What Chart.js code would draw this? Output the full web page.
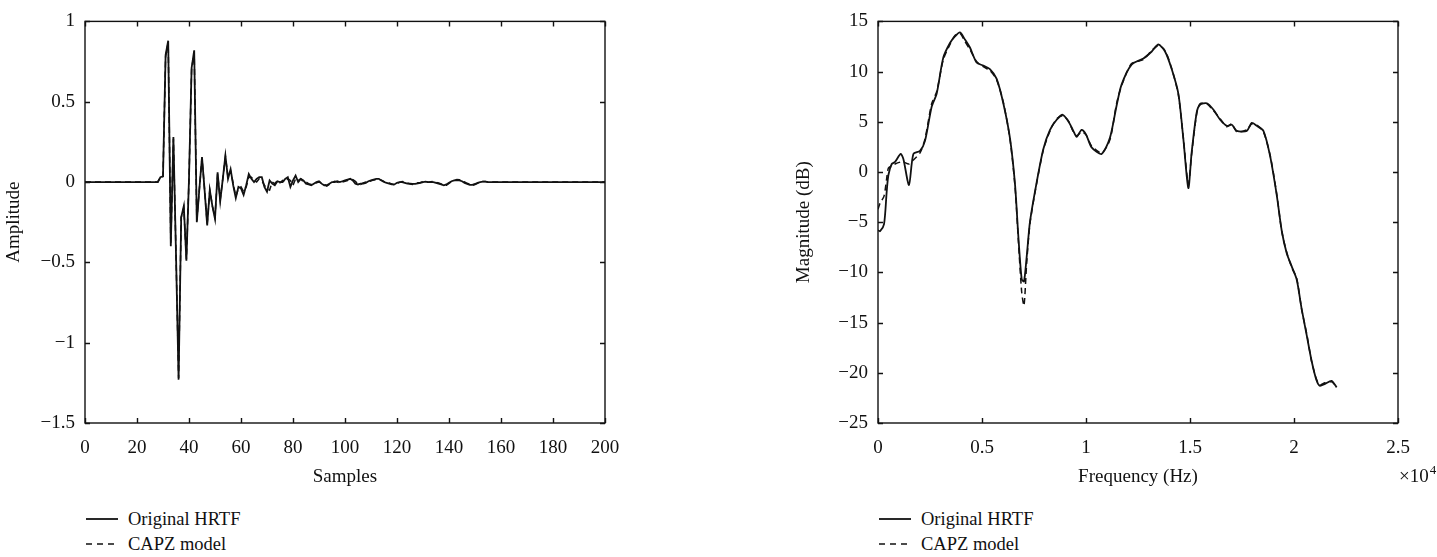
<!DOCTYPE html>
<html>
<head>
<meta charset="utf-8">
<script src="https://cdn.jsdelivr.net/npm/chart.js@4.4.1/dist/chart.umd.min.js"></script>
<style>
  html, body { margin: 0; padding: 0; background: #fff; }
  body { width: 1437px; height: 557px; position: relative; overflow: hidden; font-family: "Liberation Serif", "DejaVu Serif", serif; }
  .box { position: absolute; top: 0; }
  .legend { position: absolute; font-size: 18.5px; color: #111; }
  .legend .row { position: absolute; left: 0; white-space: nowrap; height: 22px; line-height: 22px; }
  .legend svg { position: absolute; left: 0; top: 9px; }
  .legend .tx { position: absolute; left: 42px; top: 0; }
</style>
</head>
<body>
<div class="box" style="left:0;width:640px;height:492px;"><canvas id="c1"></canvas></div>
<div class="box" style="left:790px;width:647px;height:492px;"><canvas id="c2"></canvas></div>

<div class="legend" style="left:86px;top:508px;">
  <div class="row" style="top:0;"><svg width="34" height="4"><line x1="0" y1="2" x2="32" y2="2" stroke="#111" stroke-width="1.8"/></svg><div class="tx">Original HRTF</div></div>
  <div class="row" style="top:25px;"><svg width="34" height="4"><line x1="0" y1="2" x2="32" y2="2" stroke="#111" stroke-width="1.6" stroke-dasharray="6,5"/></svg><div class="tx">CAPZ model</div></div>
</div>
<div class="legend" style="left:879px;top:508px;">
  <div class="row" style="top:0;"><svg width="34" height="4"><line x1="0" y1="2" x2="32" y2="2" stroke="#111" stroke-width="1.8"/></svg><div class="tx">Original HRTF</div></div>
  <div class="row" style="top:25px;"><svg width="34" height="4"><line x1="0" y1="2" x2="32" y2="2" stroke="#111" stroke-width="1.6" stroke-dasharray="6,5"/></svg><div class="tx">CAPZ model</div></div>
</div>

<script>
// ---------- Data: impulse response (left panel) ----------
const seriesNames = ["Original HRTF", "CAPZ model"];
const sampleIdx = [0,
  28,29,30,31,32,33,34,35,36,37,38,39,40,41,42,43,44,45,46,47,48,49,50,51,52,53,54,55,56,57,58,59,60,
  61,62,63,64,65,66,67,68,69,70,71,72,73,74,75,76,77,78,79,80,81,82,83,84,85,86,87,88,89,90,
  91,92,93,94,95,96,97,98,99,100,101,102,103,104,105,106,107,108,109,110,111,112,113,114,115,116,117,118,119,120,
  121,122,123,124,125,126,127,128,129,130,131,132,133,134,135,136,137,138,139,140,141,142,143,144,145,146,147,148,149,150,
  151,152,153,154,155,200];
const ampOriginal = [0,
  0,0.03,0.035,0.79,0.88,-0.40,0.28,-0.45,-1.23,-0.22,-0.15,-0.49,0.02,0.71,0.82,-0.25,-0.04,0.155,-0.05,-0.27,-0.05,-0.15,-0.23,0.06,-0.12,0.02,0.165,0.02,0.08,-0.02,-0.10,-0.03,-0.04,
  -0.08,-0.02,0.05,0.02,0.0,0.02,0.03,0.03,-0.03,-0.06,0.01,-0.01,-0.02,0.005,0.0,0.0,0.02,0.03,-0.03,0.01,0.04,0.0,0.02,0.01,-0.01,-0.015,-0.02,-0.01,0.0,0.005,
  -0.01,-0.02,-0.02,-0.01,0.0,0.0,0.005,0.0,0.005,0.01,0.015,0.02,0.01,-0.01,-0.015,-0.01,-0.01,-0.005,0.005,0.01,0.015,0.02,0.02,0.01,0.0,-0.005,-0.01,-0.015,-0.015,-0.005,
  0.0,0.0,-0.005,-0.01,-0.01,-0.012,-0.012,-0.008,-0.005,0.0,0.002,0.0,0.0,0.0,-0.005,-0.01,-0.015,-0.02,-0.015,-0.005,0.005,0.01,0.012,0.01,0.005,-0.005,-0.012,-0.018,-0.018,-0.012,
  -0.005,0.0,0.003,0.002,0.0,0];
const ampCapz = [0,
  0,0.03,0.035,0.78,0.87,-0.39,0.27,-0.45,-1.22,-0.22,-0.16,-0.48,0.02,0.70,0.81,-0.24,-0.04,0.15,-0.05,-0.26,-0.05,-0.15,-0.22,0.05,-0.11,0.02,0.16,0.03,0.07,-0.01,-0.09,-0.04,-0.03,
  -0.06,-0.03,0.03,0.03,0.01,0.0,0.02,0.01,-0.02,-0.04,-0.05,0.0,-0.01,0.01,-0.005,0.01,0.0,0.02,0.01,-0.02,0.02,0.01,0.02,0.0,0.0,-0.01,-0.015,-0.015,-0.005,0.0,
  -0.005,-0.015,-0.025,-0.015,-0.005,0.005,0.0,-0.005,0.0,0.005,0.01,0.012,0.015,0.005,-0.012,-0.015,-0.005,0.0,0.0,0.008,0.012,0.015,0.018,0.012,0.004,-0.003,-0.006,-0.012,-0.018,-0.01,
  -0.002,0.003,0.0,-0.006,-0.012,-0.015,-0.01,-0.005,-0.003,0.002,0.0,-0.002,0.002,0.003,-0.002,-0.006,-0.012,-0.022,-0.02,-0.008,0.002,0.008,0.015,0.014,0.006,0.0,-0.008,-0.014,-0.022,-0.016,
  -0.008,-0.002,0.004,0.004,0.001,0];
const sampleTicks = [0,20,40,60,80,100,120,140,160,180,200];
const ampTicks = [-1.5,-1,-0.5,0,0.5,1];

// ---------- Data: magnitude response (right panel) ----------
const freqHz = [0,100,290,420,500,660,820,1090,1220,1490,1700,2020,2260,2580,2820,3140,3460,3700,3940,4180,4420,4740,5060,5380,5700,6030,6350,6590,6750,6910,7020,7150,7310,7630,7950,8270,8590,8880,9150,9390,9550,9790,10000,10270,10750,11150,11470,11710,12190,12760,13160,13480,13800,14120,14440,14680,14920,15080,15320,15480,15810,16130,16450,16770,17010,17250,17730,17970,18210,18530,18850,19170,19410,19650,19890,20130,20370,20610,20850,21090,21250,21490,21810,22050];
const magOriginal = [-5.8,-5.9,-5.2,-1.9,-0.3,0.8,1.0,1.8,1.3,-1.3,1.8,2.1,3.1,6.5,7.8,11.4,12.85,13.5,13.9,13.2,12.4,10.9,10.6,10.25,9.3,6.8,3.3,-1.3,-6.5,-10.7,-10.9,-8.4,-4.9,-1.0,2.3,4.2,5.2,5.7,5.05,4.1,3.5,4.2,3.75,2.45,1.8,3.4,6.6,8.7,10.7,11.3,12.0,12.7,12.0,10.25,7.8,3.3,-1.6,1.95,5.9,6.7,6.85,6.2,5.2,4.6,4.7,4.1,4.1,4.9,4.6,4.1,1.6,-2.3,-5.85,-8.1,-9.4,-10.7,-13.65,-16.25,-18.85,-20.8,-21.3,-21.1,-20.8,-21.45];
const magCapz = [-3.7,-3.1,-2.4,-0.6,0.4,0.6,0.8,1.0,1.0,0.8,1.2,1.9,3.3,6.8,8.0,11.2,12.7,13.6,13.8,13.0,12.2,11.0,10.5,10.1,9.2,6.9,3.2,-1.5,-6.9,-12.0,-13.3,-9.0,-5.1,-1.1,2.2,4.1,5.3,5.6,5.1,4.0,3.6,4.0,3.7,2.6,1.9,3.2,6.8,8.6,10.8,11.2,12.1,12.6,12.1,10.3,7.7,3.4,-1.2,1.8,5.8,6.8,6.8,6.1,5.3,4.5,4.8,4.0,4.2,4.8,4.7,4.0,1.7,-2.2,-5.9,-8.0,-9.5,-10.6,-13.7,-16.1,-18.9,-20.7,-21.2,-21.0,-20.9,-21.4];
const freqTicks = [0,5000,10000,15000,20000,25000];
const magTicks = [-25,-20,-15,-10,-5,0,5,10,15];
const freqExponentLabel = "×10";
const freqExponent = "4";
const xTitleLeft = "Samples", yTitleLeft = "Amplitude";
const xTitleRight = "Frequency (Hz)", yTitleRight = "Magnitude (dB)";

// ---------- helpers ----------
const FONT = "'Liberation Serif', 'DejaVu Serif', serif";
const INK = "#111";
const fmt = v => { const s = String(Math.abs(Math.round(v * 1000) / 1000)); return v < 0 ? "\u2212" + s : s; };
const pts = (xs, ys) => xs.map((x, i) => ({ x, y: ys[i] }));

const boxPlugin = {
  id: 'boxTicks',
  afterDraw(chart, args, opts) {
    const { ctx, chartArea: ca, scales } = chart;
    ctx.save();
    ctx.strokeStyle = INK;
    ctx.lineWidth = 1.4;
    ctx.strokeRect(ca.left, ca.top, ca.right - ca.left, ca.bottom - ca.top);
    const L = 5;
    ctx.beginPath();
    scales.x.ticks.forEach(t => {
      const p = Math.round(scales.x.getPixelForValue(t.value)) + 0.5;
      ctx.moveTo(p, ca.bottom); ctx.lineTo(p, ca.bottom - L);
      ctx.moveTo(p, ca.top); ctx.lineTo(p, ca.top + L);
    });
    scales.y.ticks.forEach(t => {
      const p = Math.round(scales.y.getPixelForValue(t.value)) + 0.5;
      ctx.moveTo(ca.left, p); ctx.lineTo(ca.left + L, p);
      ctx.moveTo(ca.right, p); ctx.lineTo(ca.right - L, p);
    });
    ctx.stroke();
    if (opts && opts.exponent) {
      ctx.fillStyle = INK;
      ctx.textBaseline = 'alphabetic';
      ctx.textAlign = 'left';
      ctx.font = "19px " + FONT;
      const x0 = ca.right + 1, y0 = ca.bottom + 59;
      ctx.fillText(freqExponentLabel, x0, y0);
      const w = ctx.measureText(freqExponentLabel).width;
      ctx.font = "13px " + FONT;
      ctx.fillText(freqExponent, x0 + w + 1, y0 - 8);
    }
    ctx.restore();
  }
};

function makeChart(id, cfg) {
  const tickFont = { family: FONT, size: 19 };
  const titleFont = { family: FONT, size: 19 };
  return new Chart(document.getElementById(id), {
    type: 'line',
    data: {
      datasets: [
        { label: seriesNames[0], data: cfg.d1, borderColor: INK, borderWidth: 1.8, pointRadius: 0, tension: cfg.tension, fill: false },
        { label: seriesNames[1], data: cfg.d2, borderColor: INK, borderWidth: 1.5, borderDash: [6, 4], pointRadius: 0, tension: cfg.tension, fill: false }
      ]
    },
    options: {
      responsive: true,
      maintainAspectRatio: false,
      animation: false,
      events: [],
      layout: { padding: { top: 13, right: cfg.padRight, left: 0, bottom: 0 } },
      plugins: { legend: { display: false }, tooltip: { enabled: false }, boxTicks: { exponent: cfg.exponent } },
      scales: {
        x: {
          type: 'linear', min: cfg.xMin, max: cfg.xMax,
          afterBuildTicks: s => { s.ticks = cfg.xTicks.map(v => ({ value: v })); },
          afterFit: s => { s.height = 69; },
          grid: { display: false, drawTicks: false },
          border: { display: false },
          ticks: { autoSkip: false, maxRotation: 0, color: INK, font: tickFont, padding: 14, callback: cfg.xFmt },
          title: { display: true, text: cfg.xTitle, color: INK, font: titleFont, padding: { top: 0, bottom: 4 } }
        },
        y: {
          type: 'linear', min: cfg.yMin, max: cfg.yMax,
          afterBuildTicks: s => { s.ticks = cfg.yTicks.map(v => ({ value: v })); },
          afterFit: s => { s.width = cfg.yWidth; },
          grid: { display: false, drawTicks: false },
          border: { display: false },
          ticks: { autoSkip: false, color: INK, font: tickFont, padding: 10, callback: v => fmt(v) },
          title: { display: true, text: cfg.yTitle, color: INK, font: titleFont, padding: { top: 3, bottom: 0 } }
        }
      }
    },
    plugins: [boxPlugin]
  });
}

makeChart('c1', {
  d1: pts(sampleIdx, ampOriginal), d2: pts(sampleIdx, ampCapz), tension: 0,
  xMin: 0, xMax: 200, xTicks: sampleTicks, xFmt: v => fmt(v), xTitle: xTitleLeft,
  yMin: -1.5, yMax: 1, yTicks: ampTicks, yTitle: yTitleLeft, yWidth: 85, padRight: 35, exponent: false
});
makeChart('c2', {
  d1: pts(freqHz, magOriginal), d2: pts(freqHz, magCapz), tension: 0.25,
  xMin: 0, xMax: 25000, xTicks: freqTicks, xFmt: v => fmt(v / 10000), xTitle: xTitleRight,
  yMin: -25, yMax: 15, yTicks: magTicks, yTitle: yTitleRight, yWidth: 88, padRight: 39, exponent: true
});
</script>
</body>
</html>
